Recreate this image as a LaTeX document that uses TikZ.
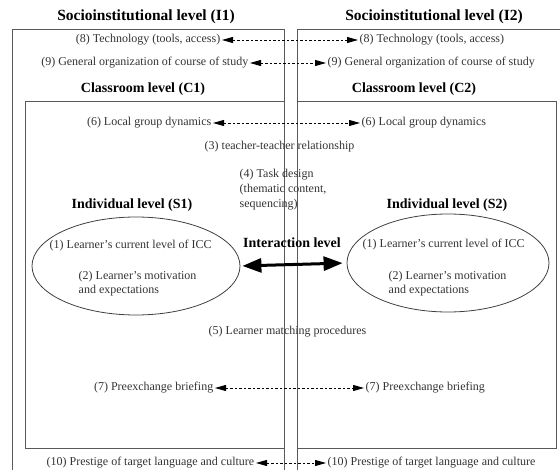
\documentclass[tikz,border=0pt]{standalone}
\usepackage{fontspec}
\setmainfont{Liberation Serif}
\usetikzlibrary{arrows.meta,shapes.geometric}

\begin{document}
\begin{tikzpicture}[x=1pt, y=-1pt,
  every node/.style={inner sep=1.5pt},
  item/.style={font=\fontsize{12}{14.5}\selectfont, text=black!80},
  lvl/.style={font=\bfseries\fontsize{15.5}{17}\selectfont},
  sublvl/.style={font=\bfseries\fontsize{14}{16}\selectfont},
  frame/.style={draw=black!65, line width=0.9pt},
  learner/.style={draw=black!75, ellipse, line width=0.8pt},
  link/.style={{Triangle[length=11pt,width=6pt]}-{Triangle[length=11pt,width=6pt]}, dash pattern=on 2.5pt off 2pt, line width=0.9pt},
  swap/.style={{Triangle[length=19pt,width=14pt]}-{Triangle[length=19pt,width=14pt]}, line width=3pt}]
\useasboundingbox (0,0) rectangle (560,470);

% frames
\draw[frame] (12,475) -- (12,29) -- (284,29) -- (284,475);
\draw[frame] (297,475) -- (297,29) -- (565,29) -- (565,475);
\draw[frame] (25,101) rectangle (284,448);
\draw[frame] (297,101) rectangle (556,448);

% socioinstitutional level
\node[lvl] (i1) at (146,17) {Socioinstitutional level (I1)};
\node[lvl] (i2) at (434,17) {Socioinstitutional level (I2)};
\node[item, anchor=east] (tech1) at (222,40) {(8) Technology (tools, access)};
\node[item, anchor=west] (tech2) at (358,40) {(8) Technology (tools, access)};
\node[item, anchor=east] (org1) at (250,63) {(9) General organization of course of study};
\node[item, anchor=west] (org2) at (326,63) {(9) General organization of course of study};
\node[item, anchor=east] (prest1) at (256,463) {(10) Prestige of target language and culture};
\node[item, anchor=west] (prest2) at (326,463) {(10) Prestige of target language and culture};

% classroom level
\node[sublvl] (c1) at (143,89) {Classroom level (C1)};
\node[sublvl] (c2) at (414,89) {Classroom level (C2)};
\node[item, anchor=east] (dyn1) at (213,123) {(6) Local group dynamics};
\node[item, anchor=west] (dyn2) at (360,123) {(6) Local group dynamics};
\node[item, anchor=west] (rel) at (203,147) {(3) teacher-teacher relationship};
\node[item, anchor=north west, align=left, font=\fontsize{12}{15}\selectfont] (task) at (238,167) {(4) Task design\\(thematic content,\\sequencing)};
\node[item, anchor=west] (match) at (207,332) {(5) Learner matching procedures};
\node[item, anchor=east] (brief1) at (215,388) {(7) Preexchange briefing};
\node[item, anchor=west] (brief2) at (364,388) {(7) Preexchange briefing};

% individual level
\node[sublvl] (ind1) at (132,205) {Individual level (S1)};
\node[sublvl] (ind2) at (447,205) {Individual level (S2)};
\node[learner, minimum width=208pt, minimum height=98pt] (s1) at (136,266) {};
\node[learner, minimum width=202pt, minimum height=98pt] (s2) at (448,263) {};
\node[item, anchor=west] (icc1) at (48,246) {(1) Learner’s current level of ICC};
\node[item, anchor=north west, align=left] (mot1) at (77,269) {(2) Learner’s motivation\\and expectations};
\node[item, anchor=west] (icc2) at (361,245) {(1) Learner’s current level of ICC};
\node[item, anchor=north west, align=left] (mot2) at (387,269) {(2) Learner’s motivation\\and expectations};
\node[sublvl] (inter) at (292,243) {Interaction level};

% connectors
\draw[link] (tech1) -- (tech2);
\draw[link] (org1) -- (org2);
\draw[link] (dyn1) -- (dyn2);
\draw[link] (brief1) -- (brief2);
\draw[link] (prest1) -- (prest2);
\draw[swap, shorten <=2pt, shorten >=4pt] (s1.east) -- (s2.west);
\end{tikzpicture}
\end{document}
